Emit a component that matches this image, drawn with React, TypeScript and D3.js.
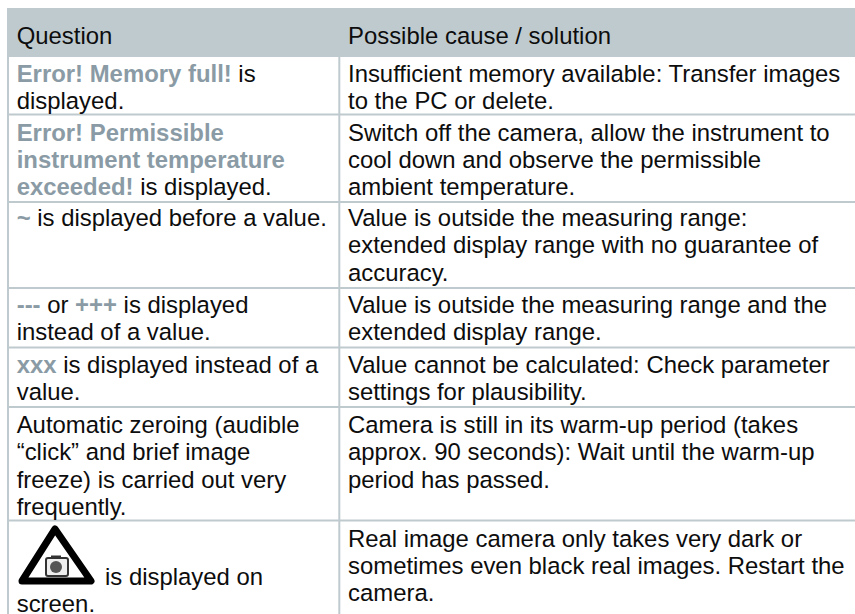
import React from "react";
import * as d3 from "d3";

const MUTED = "#8a9ba5";
const BORDER = "#bfcacf";
const INK = "#0d0d0d";

type Run = { t: string; b?: boolean };
const headerLabels = ["Question", "Possible cause / solution"];
const headerEdges = [8, 57];
const rowBorders = [114.5, 202, 288, 347.5, 407, 520.5];
const firstBaselines = [81.7, 140.7, 226, 313, 373, 433, 546.7];
const leftCells: Run[][][] = [
  [[{ t: "Error! Memory full!", b: true }, { t: " is" }], [{ t: "displayed." }]],
  [[{ t: "Error! Permissible", b: true }], [{ t: "instrument temperature", b: true }], [{ t: "exceeded!", b: true }, { t: " is displayed." }]],
  [[{ t: "~", b: true }, { t: " is displayed before a value." }]],
  [[{ t: "---", b: true }, { t: " or " }, { t: "+++", b: true }, { t: " is displayed" }], [{ t: "instead of a value." }]],
  [[{ t: "xxx", b: true }, { t: " is displayed instead of a" }], [{ t: "value." }]],
  [[{ t: "Automatic zeroing (audible" }], [{ t: "“click” and brief image" }], [{ t: "freeze) is carried out very" }], [{ t: "frequently." }]],
];
const lastRowLeft = ["is displayed on", "screen."];
const lastRowLeftBaselines = [585, 611.7];
const rightCells: string[][] = [
  ["Insufficient memory available: Transfer images", "to the PC or delete."],
  ["Switch off the camera, allow the instrument to", "cool down and observe the permissible", "ambient temperature."],
  ["Value is outside the measuring range:", "extended display range with no guarantee of", "accuracy."],
  ["Value is outside the measuring range and the", "extended display range."],
  ["Value cannot be calculated: Check parameter", "settings for plausibility."],
  ["Camera is still in its warm-up period (takes", "approx. 90 seconds): Wait until the warm-up", "period has passed."],
  ["Real image camera only takes very dark or", "sometimes even black real images. Restart the", "camera."],
];
const warningTriangle: [number, number][] = [[55, 529], [91, 581], [22, 581]];

const FONT = 23.9;
const STEP = 27.3;
const LEFT_X = 16.7;
const RIGHT_X = 348;
const COL_X = 339.3;

export default function App() {
  const triangle = d3.line()(warningTriangle) + "Z";
  const baseline = (row: number, line: number) => firstBaselines[row] + line * STEP;
  return (
    <svg width={855} height={614} style={{ position: "fixed", left: 0, top: 0, background: "#fff" }} fontFamily="Liberation Sans, Arial, sans-serif" fontSize={FONT}>
      <rect x={7} y={headerEdges[0]} width={848} height={headerEdges[1] - headerEdges[0]} fill={BORDER} />
      <text x={LEFT_X} y={44} fill={INK}>{headerLabels[0]}</text>
      <text x={RIGHT_X} y={44} fill={INK}>{headerLabels[1]}</text>
      {rowBorders.map((y) => <line key={y} x1={7} x2={855} y1={y} y2={y} stroke={BORDER} strokeWidth={2} />)}
      <line x1={8} x2={8} y1={57} y2={614} stroke={BORDER} strokeWidth={2} />
      <line x1={COL_X} x2={COL_X} y1={57} y2={614} stroke={BORDER} strokeWidth={2} />
      {leftCells.map((lines, i) => lines.map((runs, j) => (
        <text key={`l${i}${j}`} x={LEFT_X} y={baseline(i, j)} fill={INK} xmlSpace="preserve">
          {runs.map((r, k) => <tspan key={k} fontWeight={r.b ? 700 : 400} fill={r.b ? MUTED : INK}>{r.t}</tspan>)}
        </text>
      )))}
      <text x={105} y={lastRowLeftBaselines[0]} fill={INK}>{lastRowLeft[0]}</text>
      <text x={LEFT_X} y={lastRowLeftBaselines[1]} fill={INK}>{lastRowLeft[1]}</text>
      {rightCells.map((lines, i) => lines.map((s, j) => (
        <text key={`r${i}${j}`} x={RIGHT_X} y={baseline(i, j)} fill={INK}>{s}</text>
      )))}
      <g>
        <path d={triangle} fill="#fff" stroke="#000" strokeWidth={7} strokeLinejoin="round" />
        <rect x={46} y={558} width={22} height={18} rx={2} fill="#eee" stroke="#333" strokeWidth={2} />
        <rect x={51} y={555.5} width={10} height={3} fill="#333" />
        <circle cx={56} cy={567} r={6} fill="#555" />
      </g>
    </svg>
  );
}
